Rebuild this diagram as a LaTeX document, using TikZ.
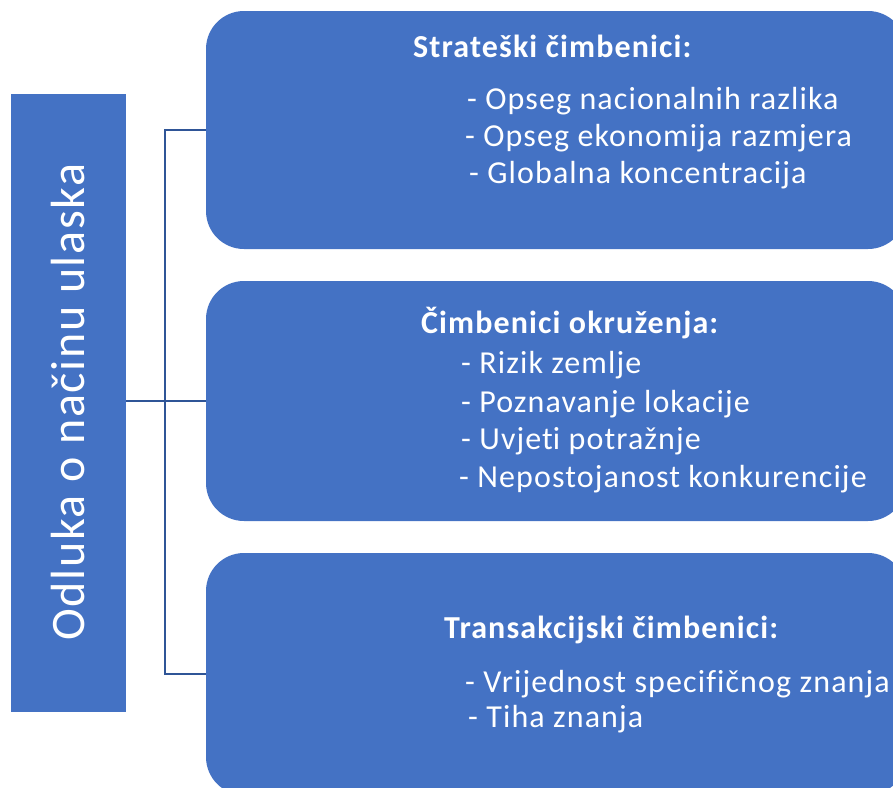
\documentclass[tikz,border=0pt]{standalone}
\usepackage{fontspec}
\setmainfont{Carlito}
\newfontfamily\spaced[LetterSpace=3.5,Ligatures={NoCommon,NoRare,NoContextual}]{Carlito}
\definecolor{boxblue}{HTML}{4472C4}
\definecolor{linecol}{HTML}{2F5597}
\begin{document}
\begin{tikzpicture}[x=1pt,y=-1pt,
  box/.style={fill=boxblue, draw=none, rounded corners=38pt, inner sep=0pt, outer sep=0pt, anchor=north west},
  conn/.style={draw=linecol, line width=2.6pt},
  title/.style={text=white, font=\spaced\fontsize{32}{38}\selectfont\bfseries, anchor=base west, inner sep=0pt},
  item/.style={text=white, font=\spaced\fontsize{32}{38}\selectfont, anchor=base west, inner sep=0pt}]
\useasboundingbox (0,0) rectangle (893,787);
\clip (0,0) rectangle (893,787);
% left box
\node[fill=boxblue, inner sep=0pt, outer sep=0pt, minimum width=115pt, minimum height=618pt, anchor=north west] (left) at (11,94) {};
\node[text=white, font=\spaced\fontsize{48}{56}\selectfont, rotate=90, anchor=base, inner sep=0pt] (lefttext) at (84,402) {Odluka o načinu ulaska};
% right boxes
\node[box, minimum width=700pt, minimum height=238pt] (b1) at (206,11) {};
\node[box, minimum width=700pt, minimum height=240pt] (b2) at (206,281) {};
\node[box, minimum width=700pt, minimum height=242pt] (b3) at (206,553) {};
% connectors
\coordinate (j) at (165,402);
\draw[conn] (left.east |- b2.west) -- (b2.west);
\draw[conn] (b1.west) -- (b1.west -| j) -- (b3.west -| j) -- (b3.west);
% box 1 text
\node[title] (t1) at (413,57) {Strateški čimbenici:};
\node[item] (t1a) at (467,109) {- Opseg nacionalnih razlika};
\node[item] (t1b) at (465,146) {- Opseg ekonomija razmjera};
\node[item] (t1c) at (469,183) {- Globalna koncentracija};
% box 2 text
\node[title] (t2) at (421,333) {Čimbenici okruženja:};
\node[item] (t2a) at (461,373) {- Rizik zemlje};
\node[item] (t2b) at (461,412) {- Poznavanje lokacije};
\node[item] (t2c) at (461,449) {- Uvjet\kern0pt i potražnje};
\node[item] (t2d) at (459,487) {- Nepostojanost konkurencije};
% box 3 text
\node[title] (t3) at (444,638) {Transakcijski čimbenici:};
\node[item] (t3a) at (465,692) {- Vrijednost specifičnog znanja};
\node[item] (t3b) at (468,727) {- Tiha znanja};
\end{tikzpicture}
\end{document}
